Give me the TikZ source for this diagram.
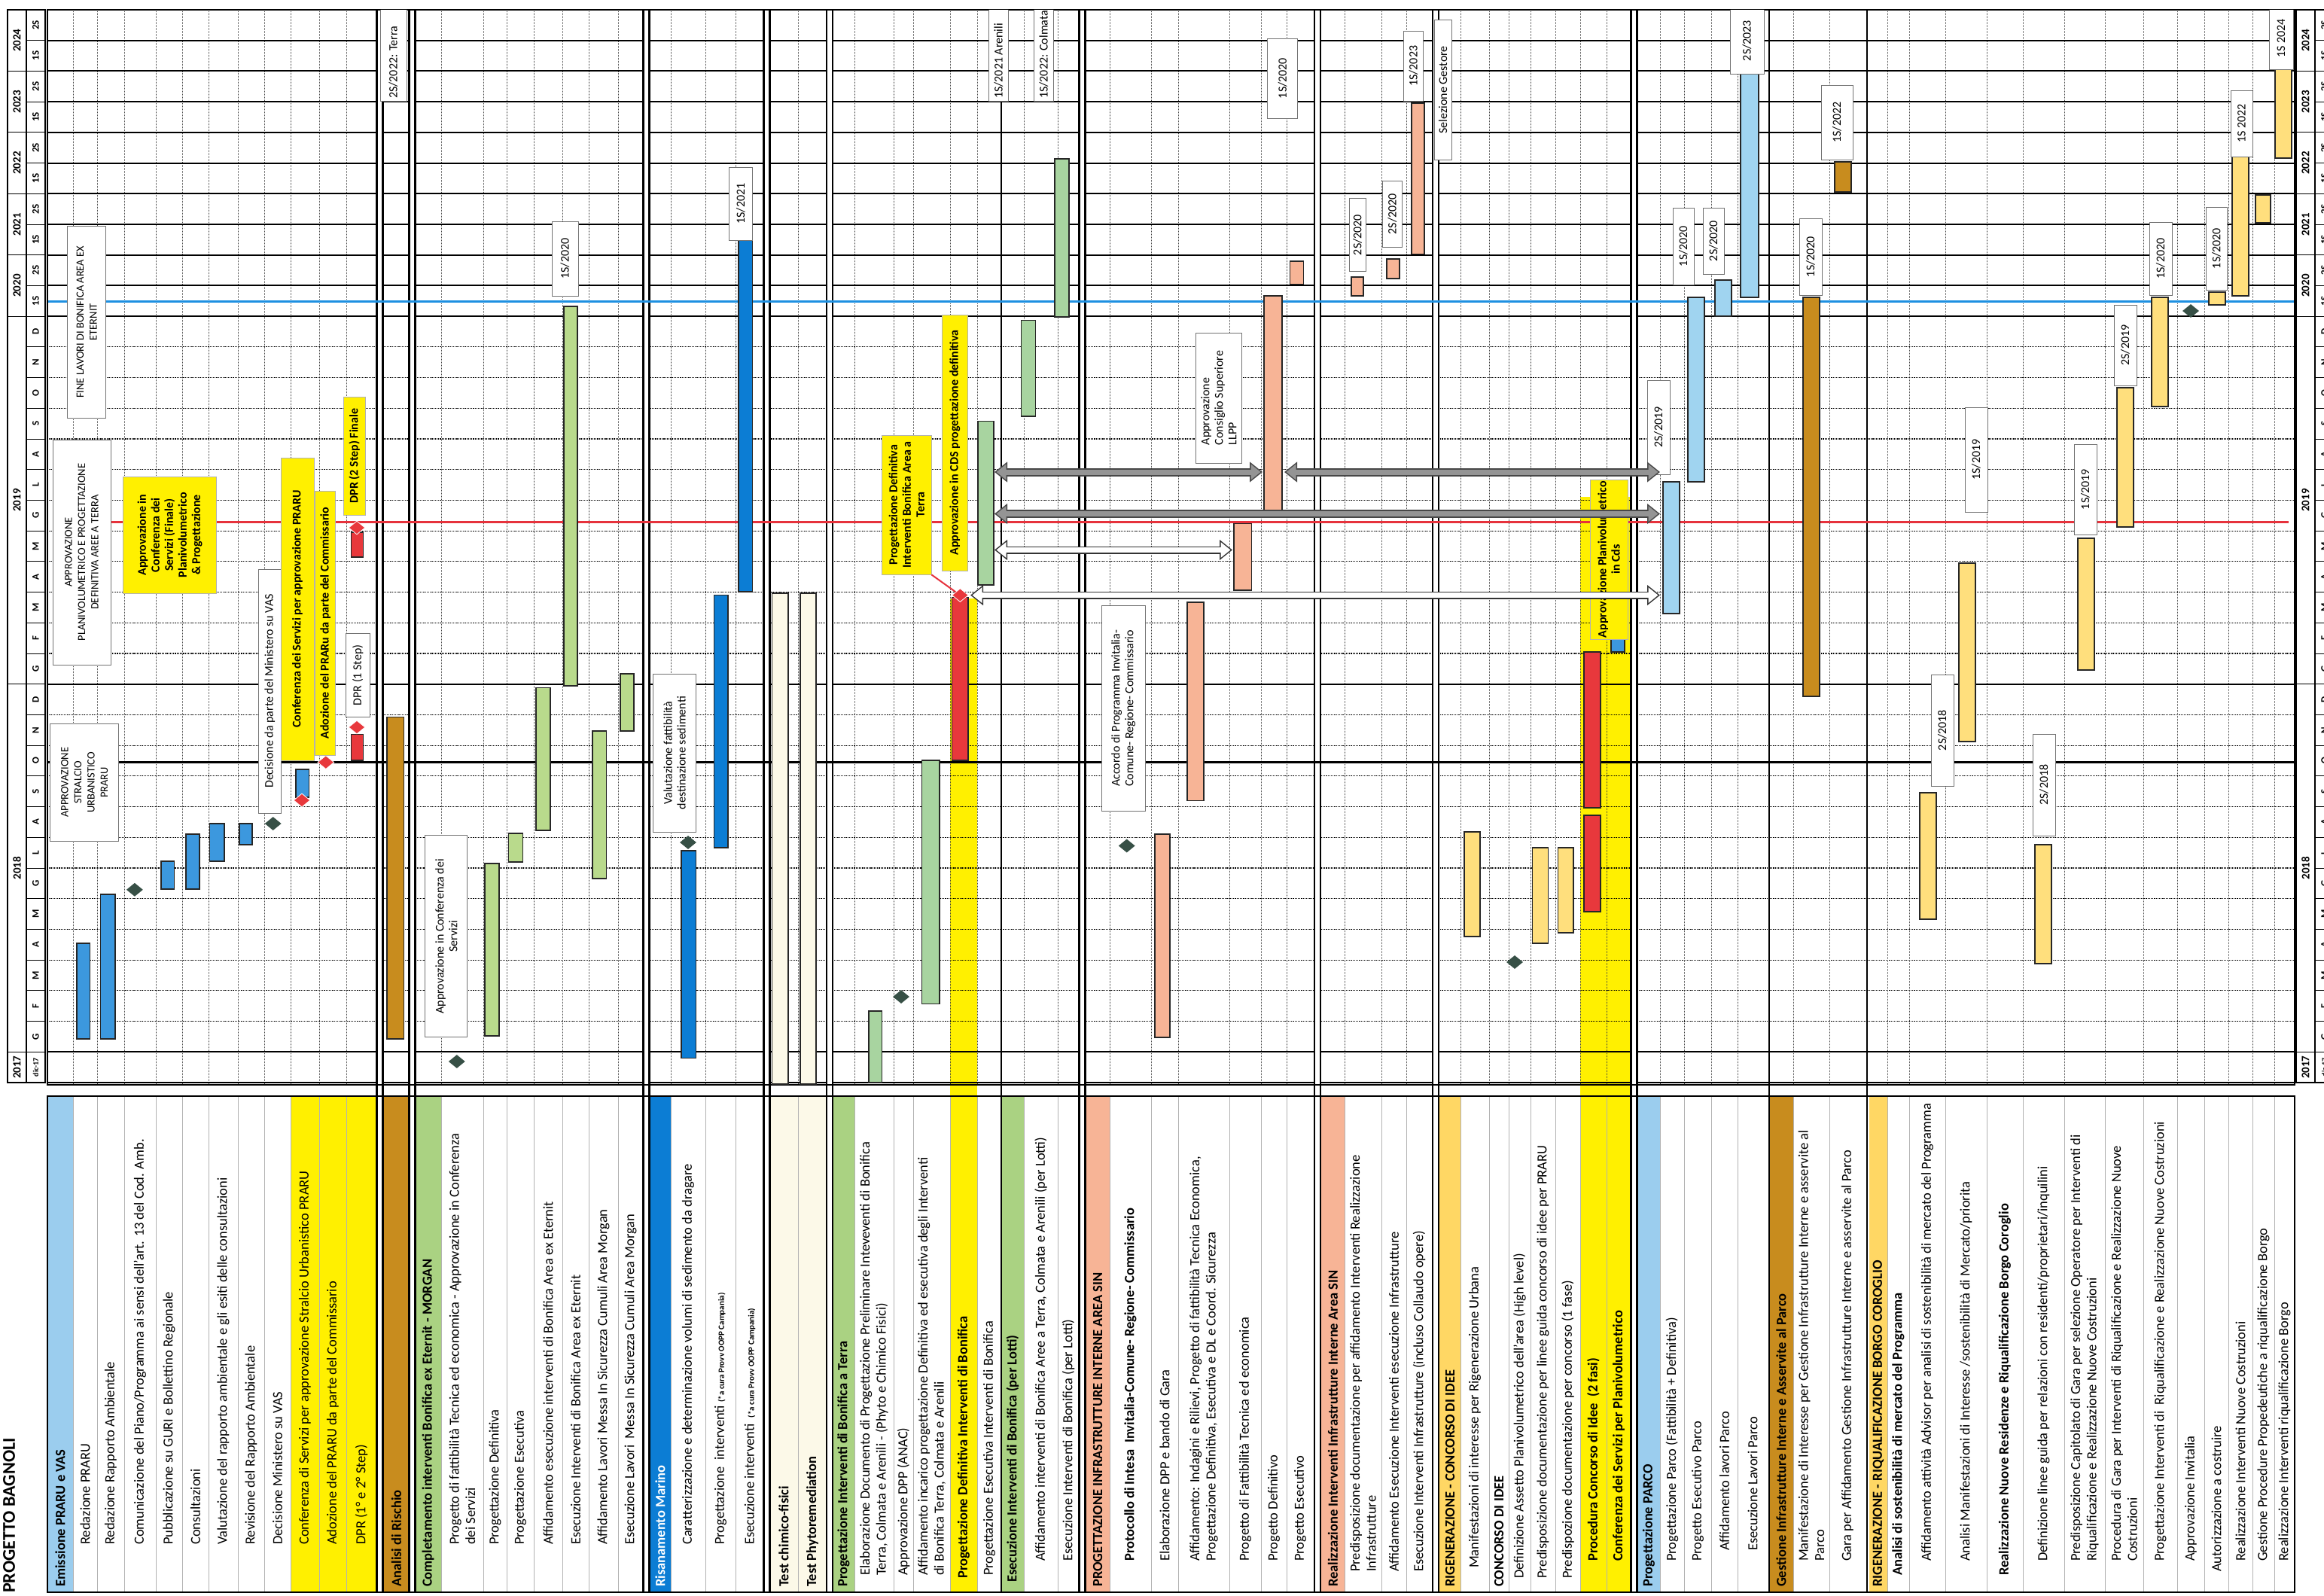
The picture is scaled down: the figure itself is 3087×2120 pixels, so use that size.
\documentclass[tikz,border=0pt]{standalone}
\usepackage{fontspec}
\setmainfont{Carlito}
\usetikzlibrary{shapes.geometric,arrows.meta,calc}
\definecolor{hdrblue}{RGB}{155,205,238}
\definecolor{barblue}{RGB}{60,152,222}
\definecolor{deepblue}{RGB}{12,125,212}
\definecolor{brownc}{RGB}{200,140,30}
\definecolor{greenh}{RGB}{170,210,130}
\definecolor{greenb}{RGB}{185,218,140}
\definecolor{greenb2}{RGB}{168,212,160}
\definecolor{yell}{RGB}{255,240,0}
\definecolor{redb}{RGB}{232,56,60}
\definecolor{salmon}{RGB}{247,180,150}
\definecolor{gold}{RGB}{255,215,100}
\definecolor{goldbar}{RGB}{255,223,125}
\definecolor{parco}{RGB}{160,212,240}
\definecolor{cream}{RGB}{252,249,232}
\definecolor{msgreen}{RGB}{55,80,70}
\definecolor{linered}{RGB}{230,50,60}
\definecolor{lineblue}{RGB}{30,144,225}
\newcommand\fl{\fontsize{18.5}{21.5}\selectfont}
\newcommand\fbx{\fontsize{16}{18}\selectfont}
\newcommand\gb[5]{\draw[bar,fill=#5] (#1,#3) rectangle (#2,#4);}
\newcommand\abx[7]{\node[#2,minimum width={(#6-#5)*1pt},minimum height={(#4-#3)*1pt}] (#1) at ({(#3+#4)/2},{(#5+#6)/2}) {#7};}
\newcommand\lb[6]{\node[#2] (#1) at ({(#3+#4)/2},#5) {#6};}
\tikzset{
  lbl/.style={rotate=90,anchor=west,inner sep=0pt,align=left,font=\fl},
  hlbl/.style={lbl,font=\fl\bfseries},
  bar/.style={draw=black!85,line width=1.6pt},
  abox/.style={draw=black!55,fill=white,line width=0.8pt,rotate=90,inner sep=2pt,align=center,font=\fbx},
  ybox/.style={abox,fill=yell,draw=black!30,font=\fbx\bfseries},
  topbox/.style={draw=black!55,fill=white,line width=0.8pt},
  toptxt/.style={rotate=90,anchor=west,inner sep=0pt,font=\fbx},
  msd/.style={diamond,fill=msgreen,inner sep=0pt,minimum width=22pt,minimum height=18pt},
  rmsd/.style={diamond,fill=redb,draw=white,line width=0.8pt,inner sep=0pt,minimum width=22pt,minimum height=18pt},
  tyr/.style={rotate=90,font=\bfseries\fontsize{15}{17}\selectfont,inner sep=0pt},
  tmo/.style={rotate=90,font=\bfseries\fontsize{13}{15}\selectfont,inner sep=0pt},
  garo/.style={line width=11pt,draw=black!72,{Triangle[width=26pt,length=17pt]}-{Triangle[width=26pt,length=17pt]}},
  gari/.style={line width=7pt,draw=black!42,shorten <=2.5pt,shorten >=2.5pt,{Triangle[width=20pt,length=13pt]}-{Triangle[width=20pt,length=13pt]}},
  wari/.style={gari,draw=white},
  woro/.style={garo,draw=black!80,line width=10pt},
}
\begin{document}
\begin{tikzpicture}[x=1pt,y=-1pt]
\useasboundingbox (0,0) rectangle (3087,2120);
\fill[white] (0,0) rectangle (3087,2120);
% ---------- colour fills of label columns ----------
\fill[hdrblue] (63,1456) rectangle (97,2115);
\fill[yell] (386,1456) rectangle (500,2115);
\fill[brownc] (509,1456) rectangle (544,2115);
\fill[greenh] (551,1456) rectangle (586,2115);
\fill[deepblue] (863,1456) rectangle (891,2115);
\fill[cream] (1022,1456) rectangle (1098,2115);
\fill[greenh] (1106,1456) rectangle (1135,2115);
\fill[yell] (1262,795) rectangle (1298,2115);
\fill[greenh] (1330,1456) rectangle (1360,2115);
\fill[salmon] (1442,1456) rectangle (1474,2115);
\fill[salmon] (1755,1456) rectangle (1786,2115);
\fill[gold] (1912,1456) rectangle (1940,2115);
\fill[yell] (2099,660) rectangle (2166,2115);
\fill[hdrblue] (2175,1456) rectangle (2205,2115);
\fill[brownc] (2350,1456) rectangle (2382,2115);
\fill[gold] (2483,1456) rectangle (2507,2115);
% ---------- grid ----------
\foreach \cx in {97,129,165,207,242,277,316,351,386,424,460,586,642,673,709,747,782,821,891,937,977,1060,1135,1187,1213,1262,1298,1360,1405,1474,1529,1565,1633,1675,1709,1786,1835,1868,1940,1978,2004,2033,2066,2099,2134,2205,2237,2273,2308,2382,2430,2507,2536,2584,2639,2687,2742,2796,2847,2892,2928,2960,2992,3021}{
  \draw[densely dotted,line width=1pt,black!75] (\cx,13) -- (\cx,1441);
  \draw[black!30,line width=0.8pt] (\cx,1456) -- (\cx,2115);
}
\foreach \t in {2,...,12,14,15,...,24}{
  \draw[densely dotted,line width=1.2pt] (63,{1438-40.714*\t}) -- (3048,{1438-40.714*\t});
}
\foreach \t in {0,1,13,25,26,...,35}{
  \draw[line width=2pt] (63,{1438-40.714*\t}) -- (3048,{1438-40.714*\t});
}
\draw[line width=1.2pt] (1330,13) -- (1330,2115);
% ---------- separators ----------
\foreach \sx in {504.5,547.5,858.5,1018.5,1102,1437.5,1750,1907,2170.5}{
  \fill[white] ({\sx-3.5},13) rectangle ({\sx+3.5},2115);
  \draw[line width=2.2pt] ({\sx-4},13) -- ({\sx-4},2115) ({\sx+4},13) -- ({\sx+4},2115);
}
\draw[line width=2.6pt] (2350,13) -- (2350,2115);
\draw[line width=2.6pt] (2480,13) -- (2480,2115);
% ---------- milestone lines ----------
\draw[line width=3.5pt,lineblue] (63,400.4) -- (3048,400.4);
\draw[line width=3pt,linered] (70,693.5) -- (3040,693.5);
\draw[line width=3.5pt] (63,1012.6) -- (3048,1012.6);
% ---------- frames ----------
\draw[line width=2.6pt] (63,13) rectangle (3048,1441);
\draw[line width=2.6pt] (63,1456) rectangle (3048,2115);
% ---------- bars ----------
\gb{101.7}{119.3}{1253}{1380}{barblue}
\gb{133.3}{152.9}{1188}{1380}{barblue}
\gb{214}{231.5}{1144}{1181}{barblue}
\gb{247}{265}{1108}{1181}{barblue}
\gb{278.5}{298}{1094}{1144}{barblue}
\gb{318}{335}{1094}{1122}{barblue}
\gb{392.8}{410.4}{1022}{1059}{barblue}
\gb{466.5}{482.6}{975.6}{1010}{redb}
\gb{466.5}{482.6}{707}{740}{redb}
\gb{514}{536.6}{952.5}{1380}{brownc}
\gb{644}{663}{1146.7}{1376}{greenb}
\gb{675.5}{694.5}{1107}{1144.8}{greenb}
\gb{712}{731}{913.6}{1103}{greenb}
\gb{749}{766.7}{407}{911}{greenb}
\gb{787}{805.3}{971}{1167}{greenb}
\gb{824}{842}{895}{971}{greenb}
\gb{905}{924.6}{1130}{1405.6}{deepblue}
\gb{948.4}{966.7}{790.6}{1126}{deepblue}
\gb{980.7}{999.6}{319}{786}{deepblue}
\gb{1025.6}{1046.7}{788}{1440}{cream}
\gb{1062.8}{1083.8}{788}{1440}{cream}
\gb{1154.2}{1171.4}{1342.7}{1438}{greenb2}
\gb{1224.4}{1248}{1009.8}{1333.5}{greenb2}
\gb{1264.5}{1286.2}{793.4}{1009.8}{redb}
\gb{1299}{1320}{559.5}{776.8}{greenb2}
\gb{1356.4}{1375.5}{425.4}{553}{greenb2}
\gb{1401}{1420}{210.8}{420.7}{greenb2}
\gb{1533.7}{1554}{1107.8}{1377.8}{salmon}
\gb{1577}{1598.7}{800}{1063.4}{salmon}
\gb{1639}{1662.5}{695.4}{784.2}{salmon}
\gb{1679}{1702.7}{393}{684.3}{salmon}
\gb{1713.5}{1731.4}{346.8}{377.3}{salmon}
\gb{1795}{1811}{368}{393}{salmon}
\gb{1841.7}{1859}{344}{370}{salmon}
\gb{1874.9}{1892}{136.9}{337.5}{salmon}
\gb{1945}{1966}{1105}{1243.8}{goldbar}
\gb{2035.6}{2056.6}{1126}{1253}{goldbar}
\gb{2069.4}{2089.8}{1126}{1239}{goldbar}
\gb{2104}{2126}{1083}{1211}{redb}
\gb{2104}{2126}{866}{1073}{redb}
\gb{2140}{2158}{837}{866}{barblue}
\gb{2209}{2231}{640}{815}{parco}
\gb{2242}{2264}{395}{640}{parco}
\gb{2278}{2300}{372}{420}{parco}
\gb{2312}{2336}{98}{395}{parco}
\gb{2395}{2417}{395}{925}{brownc}
\gb{2437}{2459}{215}{255}{brownc}
\gb{2550}{2572}{1053}{1221}{goldbar}
\gb{2602}{2624}{748}{985}{goldbar}
\gb{2703}{2725}{1122}{1280}{goldbar}
\gb{2760}{2782}{715}{890}{goldbar}
\gb{2812}{2834}{515}{700}{goldbar}
\gb{2858}{2880}{395}{540}{goldbar}
\gb{2934}{2956}{388}{405}{goldbar}
\gb{2965}{2987}{208}{393}{goldbar}
\gb{2996}{3016}{259}{296}{goldbar}
\gb{3022}{3044}{92}{210}{goldbar}
% ---------- milestones ----------
\node[msd] (m1) at (178.9,1181.8) {};
\node[msd] (m2) at (362.7,1094) {};
\node[msd] (m3) at (606.8,1410) {};
\node[msd] (m4) at (914,1119) {};
\node[msd] (m5) at (1197,1324) {};
\node[msd] (m6) at (1496.7,1123.5) {};
\node[msd] (m7) at (2012,1278) {};
\node[msd] (m8) at (2910,413) {};
\node[rmsd] (r1) at (401,1063) {};
\node[rmsd] (r2) at (432.8,1012.6) {};
\node[rmsd] (r3) at (474,966) {};
\node[rmsd] (r4) at (474,701) {};
\node[rmsd] (r5) at (1275.4,790.6) {};
\node[rmsd] (r6) at (2149,831) {};
% ---------- annotation boxes ----------
\begin{scope}
\clip (0,13) rectangle (3087,2120);
\abx{b1}{abox,font=\fontsize{14.5}{17.5}\selectfont}{66.6}{157.8}{961.7}{1117}{APPROVAZIONE\\STRALCIO\\URBANISTICO\\PRARU}
\abx{b2}{abox,font=\fontsize{14.5}{17.5}\selectfont}{70}{147}{584}{883}{APPROVAZIONE\\PLANIVOLUMETRICO E PROGETTAZIONE\\DEFINITIVA AREE A TERRA}
\abx{b3}{abox,font=\fontsize{14.5}{17.5}\selectfont}{89.8}{140.3}{300.5}{555}{FINE LAVORI DI BONIFICA AREA EX\\ETERNIT}
\abx{b4}{ybox}{163.5}{287.6}{633.4}{787.9}{Approvazione in\\Conferenza dei\\Servizi (Finale)\\Planivolumetrico\\\& Progettazione}
\abx{b5}{abox}{343.7}{373.2}{756}{1080}{Decisione da parte del Ministero su VAS}
\abx{b6}{ybox}{373}{417}{608}{1010}{Conferenza dei Servizi per approvazione PRARU}
\abx{b7}{ybox}{418.8}{445.5}{652}{1003}{Adozione del PRARu da parte del Commissario}
\abx{b8}{abox}{459.5}{491}{841.5}{952.5}{DPR (1 Step)}
\abx{b9}{ybox}{456}{485.4}{527}{684}{DPR (2 Step) Finale}
\draw[topbox] (505,0) rectangle (540,134);
\node[toptxt] (b10) at (522.5,131) {2S/2022: Terra};
\abx{b11}{abox}{564.7}{620.8}{1109.7}{1377.8}{Approvazione in Conferenza dei\\Servizi}
\abx{b12}{abox}{733}{768}{294}{393}{1S/2020}
\abx{b13}{abox}{867.8}{924.6}{895}{1105}{Valutazione fattibilità\\destinazione sedimenti}
\abx{b14}{abox}{968}{999.6}{222}{319}{1S/2021}
\abx{b15}{ybox}{1171.4}{1237}{578}{763}{Progettazione Definitiva\\Interventi Bonifica Area a\\Terra}
\abx{b16}{ybox}{1251.8}{1285}{418}{758}{Approvazione in CDS progettazione definitiva}
\draw[topbox] (1313.6,0) rectangle (1339,134);
\node[toptxt] (b17) at (1326.3,131) {1S/2021 Arenili};
\draw[topbox] (1373,0) rectangle (1399.7,134);
\node[toptxt] (b18) at (1386.3,131) {1S/2022: Colmata};
\abx{b19}{abox}{1463.5}{1521}{804.5}{1077.3}{Accordo di Programma Invitalia-\\Comune- Regione- Commissario}
\abx{b20}{abox,align=left}{1588}{1649.7}{442}{615}{Approvazione\\Consiglio Superiore\\LLPP}
\abx{b21}{abox}{1683.5}{1723.7}{50.9}{157.2}{1S/2020}
\abx{b22}{abox}{1792}{1814.3}{263.5}{360.6}{2S/2020}
\abx{b23}{abox}{1836.6}{1862}{240.4}{328}{2S/2020}
\abx{b24}{abox}{1864}{1890.8}{41.6}{134}{1S/2023}
\abx{b25}{abox}{1905}{1928}{26}{212.7}{Selezione Gestore}
\abx{b26}{ybox}{2112}{2162}{660}{826}{Approvazione Planivolumetrico\\in Cds}
\abx{b27}{abox}{2188}{2218}{505}{630}{2S/2019}
\abx{b28}{abox}{2222}{2250}{276}{378}{1S/2020}
\abx{b29}{abox}{2262}{2290}{276}{364}{2S/2020}
\abx{b30}{abox}{2298}{2343}{10}{98}{2S/2023}
\abx{b31}{abox}{2390}{2420}{290}{392}{1S/2020}
\abx{b32}{abox}{2419}{2461}{113}{212}{1S/2022}
\abx{b33}{abox}{2565}{2595}{896}{1044}{2S/2018}
\abx{b34}{abox}{2610}{2640}{541}{680}{1S/2019}
\abx{b35}{abox}{2700}{2730}{975}{1110}{2S/2018}
\abx{b36}{abox}{2755}{2785}{590}{710}{1S/2019}
\abx{b37}{abox}{2808}{2838}{405}{512}{2S/2019}
\abx{b38}{abox}{2855}{2885}{295}{392}{1S/2020}
\abx{b39}{abox}{2930}{2958}{275}{385}{1S/2020}
\abx{b40}{abox}{2963}{2992}{120}{208}{1S 2022}
\abx{b41}{abox}{3014}{3046}{10}{92}{1S 2024}
\end{scope}
\draw[linered,line width=2pt] (b15.south west) -- (r5);
% ---------- arrows ----------
\coordinate (gA1) at (1321,627); \coordinate (gA2) at (1677,627);
\coordinate (gB1) at (1706,627); \coordinate (gB2) at (2205,627);
\coordinate (gC1) at (1321,682.5); \coordinate (gC2) at (2205,682.5);
\coordinate (wA1) at (1321,730.5); \coordinate (wA2) at (1637,730.5);
\coordinate (wB1) at (1289,790.6); \coordinate (wB2) at (2205,790.6);
\draw[garo] (gA1) -- (gA2); \draw[gari] (gA1) -- (gA2);
\draw[garo] (gB1) -- (gB2); \draw[gari] (gB1) -- (gB2);
\draw[garo] (gC1) -- (gC2); \draw[gari] (gC1) -- (gC2);
\draw[woro] (wA1) -- (wA2); \draw[wari] (wA1) -- (wA2);
\draw[woro] (wB1) -- (wB2); \draw[wari] (wB1) -- (wB2);
% ---------- labels ----------
\lb{L1}{hlbl}{63}{97}{2108}{Emissione PRARU e VAS}
\lb{L2}{lbl}{97}{129}{2052}{Redazione PRARU}
\lb{L3}{lbl}{129}{165}{2052}{Redazione Rapporto Ambientale}
\lb{L4}{lbl}{165}{207}{2052}{Comunicazione del Piano/Programma ai sensi dell'art. 13 del Cod. Amb.}
\lb{L5}{lbl}{207}{242}{2052}{Pubblicazione su GURI e Bollettino Regionale}
\lb{L6}{lbl}{242}{277}{2052}{Consultazioni}
\lb{L7}{lbl}{277}{316}{2052}{Valutazione del rapporto ambientale e gli esiti delle consultazioni}
\lb{L8}{lbl}{316}{351}{2052}{Revisione del Rapporto Ambientale}
\lb{L9}{lbl}{351}{386}{2052}{Decisione Ministero su VAS}
\lb{L10}{lbl}{386}{424}{2052}{Conferenza di Servizi per approvazione Stralcio Urbanistico PRARU}
\lb{L11}{lbl}{424}{460}{2052}{Adozione del PRARU da parte del Commissario}
\lb{L12}{lbl}{460}{500}{2052}{DPR (1° e 2° Step)}
\lb{L13}{hlbl}{509}{544}{2108}{Analisi di Rischio}
\lb{L14}{hlbl}{551}{586}{2108}{Completamento interventi Bonifica ex Eternit - MORGAN}
\lb{L15}{lbl}{586}{642}{2052}{Progetto di fattibilità Tecnica ed economica - Approvazione in Conferenza\\dei Servizi}
\lb{L16}{lbl}{642}{673}{2052}{Progettazione Definitiva}
\lb{L17}{lbl}{673}{709}{2052}{Progettazione Esecutiva}
\lb{L18}{lbl}{709}{747}{2052}{Affidamento esecuzione interventi di Bonifica Area ex Eternit}
\lb{L19}{lbl}{747}{782}{2052}{Esecuzione Interventi di Bonifica Area ex Eternit}
\lb{L20}{lbl}{782}{821}{2052}{Affidamento Lavori Messa In Sicurezza Cumuli Area Morgan}
\lb{L21}{lbl}{821}{854}{2052}{Esecuzione Lavori\ \ Messa In Sicurezza Cumuli Area Morgan}
\lb{L22}{hlbl,text=white}{863}{891}{2108}{Risanamento Marino}
\lb{L23}{lbl}{891}{937}{2052}{Caratterizzazione e determinazione volumi di sedimento da dragare}
\lb{L24}{lbl}{937}{977}{2052}{Progettazione\ \ interventi {\fontsize{11}{13}\selectfont\bfseries (*a cura Provv OOPP Campania)}}
\lb{L25}{lbl}{977}{1015}{2052}{Esecuzione interventi\ \ {\fontsize{11}{13}\selectfont\bfseries (*a cura Provv OOPP Campania)}}
\lb{L26}{hlbl}{1022}{1060}{2108}{Test chimico-fisici}
\lb{L27}{hlbl}{1060}{1098}{2108}{Test Phytoremediation}
\lb{L28}{hlbl}{1106}{1135}{2108}{Progettazione Interventi di Bonifica a Terra}
\lb{L29}{lbl}{1135}{1187}{2093}{Elaborazione Documento di Progettazione Preliminare Inteveventi di Bonifica\\Terra, Colmata e Arenili - (Phyto e Chimico Fisici)}
\lb{L30}{lbl}{1187}{1213}{2093}{Approvazione DPP (ANAC)}
\lb{L31}{lbl}{1213}{1262}{2093}{Affidamento incarico progettazione Definitiva ed esecutiva degli Interventi\\di Bonifica Terra, Colmata e Arenili}
\lb{L32}{hlbl}{1262}{1298}{2097}{Progettazione Definitiva Interventi di Bonifica}
\lb{L33}{lbl}{1298}{1330}{2093}{Progettazione Esecutiva Interventi di Bonifica}
\lb{L34}{hlbl}{1330}{1360}{2102}{Esecuzione Interventi di Bonifica (per Lotti)}
\lb{L35}{lbl}{1360}{1405}{2074}{Affidamento interventi di Bonifica Aree a Terra, Colmata e Arenili (per Lotti)}
\lb{L36}{lbl}{1405}{1433}{2074}{Esecuzione Interventi di Bonifica (per Lotti)}
\lb{L37}{hlbl}{1442}{1474}{2108}{PROGETTAZIONE INFRASTRUTTURE INTERNE AREA SIN}
\lb{L38}{hlbl}{1474}{1529}{2074}{Protocollo di Intesa\ \ Invitalia-Comune- Regione- Commissario}
\lb{L39}{lbl}{1529}{1565}{2074}{Elaborazione DPP e bando di Gara}
\lb{L40}{lbl}{1565}{1633}{2074}{Affidamento: Indagini e Rilievi, Progetto di fattibilità Tecnica Economica,\\Progettazione Definitiva, Esecutiva e DL e Coord. Sicurezza}
\lb{L41}{lbl}{1633}{1675}{2074}{Progetto di Fattibilità Tecnica ed economica}
\lb{L42}{lbl}{1675}{1709}{2074}{Progetto Definitivo}
\lb{L43}{lbl}{1709}{1745}{2074}{Progetto Esecutivo}
\lb{L44}{hlbl}{1755}{1786}{2108}{Realizzazione Interventi Infrastrutture Interne Area SIN}
\lb{L45}{lbl}{1786}{1835}{2088}{Predisposizione documentazione per affidamento Interventi Realizzazione\\Infrastrutture}
\lb{L46}{lbl}{1835}{1868}{2088}{Affidamento Esecuzione Interventi esecuzione Infrastrutture}
\lb{L47}{lbl}{1868}{1902}{2088}{Esecuzione Interventi Infrastrutture (incluso Collaudo opere)}
\lb{L48}{hlbl}{1912}{1940}{2108}{RIGENERAZIONE - CONCORSO DI IDEE}
\lb{L49}{lbl}{1940}{1978}{2083}{Manifestazioni di interesse per Rigenerazione Urbana}
\lb{L50}{hlbl}{1978}{2004}{2108}{CONCORSO DI IDEE}
\lb{L51}{lbl}{2004}{2033}{2097}{Definizione Assetto Planivolumetrico dell'area (High level)}
\lb{L52}{lbl}{2033}{2066}{2097}{Predisposizione documentazione per linee guida concorso di idee per PRARU}
\lb{L53}{lbl}{2066}{2099}{2097}{Predispozione documentazione per concorso (1 fase)}
\lb{L54}{hlbl}{2099}{2134}{2074}{Procedura Concorso di Idee\ \ (2 fasi)}
\lb{L55}{hlbl}{2134}{2166}{2074}{Conferenza dei Servizi per Planivolumetrico}
\lb{L56}{hlbl}{2175}{2205}{2108}{Progettazione PARCO}
\lb{L57}{lbl}{2205}{2237}{2074}{Progettazione Parco (Fattibilità + Definitiva)}
\lb{L58}{lbl}{2237}{2273}{2074}{Progetto Esecutivo Parco}
\lb{L59}{lbl}{2273}{2308}{2060}{Affidamento lavori Parco}
\lb{L60}{lbl}{2308}{2348}{2060}{Esecuzione Lavori Parco}
\lb{L61}{hlbl}{2350}{2382}{2108}{Gestione Infrastrutture Interne e Asservite al Parco}
\lb{L62}{lbl}{2382}{2430}{2074}{Manifestazione di Interesse per Gestione Infrastrutture Interne e asservite al\\Parco}
\lb{L63}{lbl}{2430}{2478}{2074}{Gara per Affidamento Gestione Infrastrutture Interne e asservite al Parco}
\lb{L64}{hlbl}{2483}{2507}{2108}{RIGENERAZIONE - RIQUALIFICAZIONE BORGO COROGLIO}
\lb{L65}{hlbl}{2507}{2536}{2093}{Analisi di sostenibilità di mercato del Programma}
\lb{L66}{lbl}{2536}{2584}{2074}{Affidamento attività Advisor per analisi di sostenibilità di mercato del Programma}
\lb{L67}{lbl}{2584}{2639}{2074}{Analisi Manifestazioni di Interesse /sostenibilità di Mercato/priorita}
\lb{L68}{hlbl}{2639}{2687}{2093}{Realizzazione Nuove Residenze e Riqualificazione Borgo Coroglio}
\lb{L69}{lbl}{2687}{2742}{2074}{Definizione linee guida per relazioni con residenti/proprietari/inquilini}
\lb{L70}{lbl}{2742}{2796}{2074}{Predisposizione Capitolato di Gara per selezione Operatore per Interventi di\\Riqualificazione e Realizzazione Nuove Costruzioni}
\lb{L71}{lbl}{2796}{2847}{2074}{Procedura di Gara per Interventi di Riqualificazione e Realizzazione Nuove\\Costruzioni}
\lb{L72}{lbl}{2847}{2892}{2074}{Progettazione Interventi di\ \ Riqualificazione e Realizzazione Nuove Costruzioni}
\lb{L73}{lbl}{2892}{2928}{2074}{Approvazione Invitalia}
\lb{L74}{lbl}{2928}{2960}{2088}{Autorizzazione a costruire}
\lb{L75}{lbl}{2960}{2992}{2074}{Realizzazione Interventi Nuove Costruzioni}
\lb{L76}{lbl}{2992}{3021}{2074}{Gestione Procedure Propedeutiche a riqualificazione Borgo}
\lb{L77}{lbl}{3021}{3048}{2074}{Realizzazione Interventi riqualificazione Borgo}
% ---------- time headers ----------
\foreach \hx in {10,3050}{
  \draw[line width=1.6pt] (\hx,13) rectangle ({\hx+50},1438);
  \draw[line width=1.2pt] ({\hx+25},13) -- ({\hx+25},1438);
  \foreach \t in {1,...,34}{\draw[line width=1pt] ({\hx+25},{1438-40.714*\t}) -- ({\hx+50},{1438-40.714*\t});}
  \foreach \t in {1,13,25,27,29,31,33}{\draw[line width=1.2pt] (\hx,{1438-40.714*\t}) -- ({\hx+25},{1438-40.714*\t});}
  \node[tyr] (yA\hx) at ({\hx+12.5},{1438-40.714*0.5}) {2017};
  \node[tyr] (yB\hx) at ({\hx+12.5},{1438-40.714*7}) {2018};
  \node[tyr] (yC\hx) at ({\hx+12.5},{1438-40.714*19}) {2019};
  \node[tyr] (yD\hx) at ({\hx+12.5},{1438-40.714*26}) {2020};
  \node[tyr] (yE\hx) at ({\hx+12.5},{1438-40.714*28}) {2021};
  \node[tyr] (yF\hx) at ({\hx+12.5},{1438-40.714*30}) {2022};
  \node[tyr] (yG\hx) at ({\hx+12.5},{1438-40.714*32}) {2023};
  \node[tyr] (yH\hx) at ({\hx+12.5},{1438-40.714*34}) {2024};
  \node[tmo,font=\bfseries\fontsize{10}{12}\selectfont] (d\hx) at ({\hx+37.5},{1438-40.714*0.5}) {dic-17};
  \foreach \t/\m in {1/G,2/F,3/M,4/A,5/M,6/G,7/L,8/A,9/S,10/O,11/N,12/D,13/G,14/F,15/M,16/A,17/M,18/G,19/L,20/A,21/S,22/O,23/N,24/D,25/1S,26/2S,27/1S,28/2S,29/1S,30/2S,31/1S,32/2S,33/1S,34/2S}{
    \node[tmo] (mo\hx-\t) at ({\hx+37.5},{1438-40.714*(\t+0.5)}) {\m};
  }
}
% ---------- title ----------
\node[rotate=90,anchor=west,inner sep=0pt,font=\bfseries\fontsize{24}{28}\selectfont] (title) at (12,2116) {PROGETTO BAGNOLI};
\end{tikzpicture}
\end{document}
